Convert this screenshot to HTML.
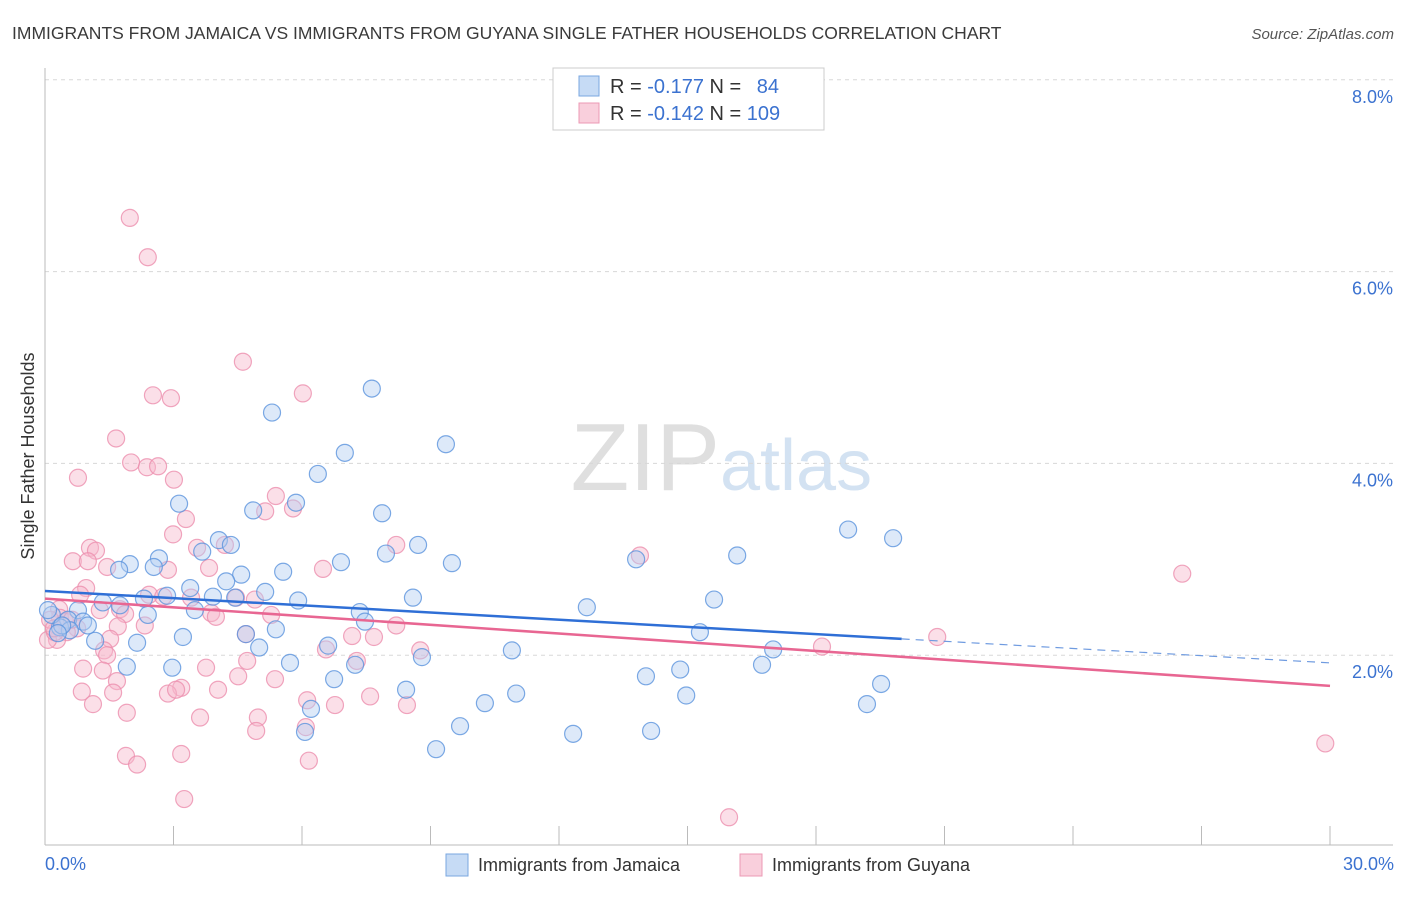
<!DOCTYPE html>
<html><head><meta charset="utf-8"><style>
body{margin:0;background:#fff;font-family:"Liberation Sans",sans-serif;}
svg text{font-family:"Liberation Sans",sans-serif;}
</style></head><body>
<svg id="chart" width="1406" height="892" xmlns="http://www.w3.org/2000/svg">
<text x="12" y="39" font-size="17.5" fill="#3a3a3a">IMMIGRANTS FROM JAMAICA VS IMMIGRANTS FROM GUYANA SINGLE FATHER HOUSEHOLDS CORRELATION CHART</text>
<text x="1394" y="39" font-size="15" fill="#555" font-style="italic" text-anchor="end">Source: ZipAtlas.com</text>
<text x="720" y="490" font-size="96" fill="#d8d8d8" text-anchor="end" font-family="Liberation Serif" opacity="0.8">ZIP</text>
<text x="720" y="490" font-size="72" fill="#c9dcf0" opacity="0.8">atlas</text>
<g id="grid"></g><g id="axes"></g><g id="pts"></g><g id="lines"></g>
<text transform="translate(34,456) rotate(-90)" font-size="18" fill="#333" text-anchor="middle">Single Father Households</text>
<g>
<rect x="553" y="68" width="271" height="62" fill="#fff" stroke="#ccc"/>
<rect x="579" y="76" width="20" height="20" fill="#c6dbf5" stroke="#7aa7e0"/>
<rect x="579" y="103" width="20" height="20" fill="#f9cfdc" stroke="#ec9ab4"/>
<text x="610" y="93" font-size="20" fill="#333">R = <tspan fill="#3b72d0">-0.177</tspan>   N =  <tspan fill="#3b72d0" dx="10">84</tspan></text>
<text x="610" y="120" font-size="20" fill="#333">R = <tspan fill="#3b72d0">-0.142</tspan>   N = <tspan fill="#3b72d0">109</tspan></text>
</g>
<g>
<rect x="446" y="854" width="22" height="22" fill="#c6dbf5" stroke="#7aa7e0"/>
<text x="478" y="871" font-size="18" fill="#333">Immigrants from Jamaica</text>
<rect x="740" y="854" width="22" height="22" fill="#f9cfdc" stroke="#ec9ab4"/>
<text x="772" y="871" font-size="18" fill="#333">Immigrants from Guyana</text>
</g>
</svg>
<script>
const yTicks=[2,4,6,8];
const xTickLabels=["0.0%","30.0%"];
const blueX=[5.30,7.63,7.00,9.36,6.37,3.13,5.86,4.86,7.87,18.75,19.80,4.06,4.34,3.67,8.71,7.96,6.91,2.66,1.98,1.73,2.54,5.56,4.58,4.23,16.16,9.50,13.80,3.39,2.85,3.92,2.31,5.14,5.91,4.44,8.59,12.65,15.62,1.35,1.75,0.77,2.40,3.50,7.35,7.47,0.54,0.89,5.39,4.69,15.29,3.22,1.17,2.15,6.61,17.00,5.00,10.90,8.80,5.72,7.24,1.91,2.97,16.74,14.83,14.03,6.75,8.43,19.52,11.00,14.97,10.27,6.21,19.19,9.69,6.07,12.33,14.15,9.13,0.35,0.16,0.07,0.58,1.00,0.40,0.30];
const blueY=[4.53,4.78,4.11,4.20,3.89,3.58,3.59,3.51,3.48,3.31,3.22,3.20,3.15,3.08,3.15,3.06,2.97,3.01,2.95,2.89,2.92,2.87,2.84,2.77,3.04,2.96,3.00,2.70,2.62,2.61,2.59,2.66,2.57,2.60,2.60,2.50,2.58,2.55,2.52,2.47,2.42,2.47,2.45,2.35,2.37,2.35,2.27,2.22,2.24,2.19,2.15,2.13,2.10,2.06,2.08,2.05,1.98,1.92,1.90,1.88,1.87,1.90,1.85,1.78,1.75,1.64,1.70,1.60,1.58,1.50,1.44,1.49,1.26,1.20,1.18,1.21,1.02,2.29,2.42,2.47,2.26,2.31,2.31,2.23];
const pinkX=[1.98,2.40,4.62,6.02,2.52,2.94,1.66,2.01,2.38,2.64,0.77,3.01,5.39,5.79,5.14,3.29,2.99,8.20,1.05,1.19,0.65,1.00,3.55,4.20,13.89,26.55,1.45,2.87,6.49,3.83,0.96,0.82,2.43,3.41,2.76,4.46,4.90,1.75,1.87,0.33,1.28,3.88,3.99,5.28,8.20,2.33,1.70,0.75,0.51,0.28,0.07,0.23,4.69,7.17,7.68,1.52,8.76,6.56,20.83,18.14,1.38,1.45,4.72,7.28,0.89,3.76,1.35,4.51,5.37,1.68,3.18,2.87,4.04,0.86,1.59,3.06,6.77,6.12,7.59,8.45,1.12,1.91,3.62,4.97,4.93,6.09,29.89,1.89,3.18,2.15,6.16,3.25,15.97,0.35,0.47,0.12,0.63,0.21];
const pinkY=[6.56,6.15,5.06,4.73,4.71,4.68,4.26,4.01,3.96,3.97,3.85,3.83,3.66,3.53,3.50,3.42,3.26,3.15,3.12,3.09,2.98,2.98,3.12,3.15,3.04,2.85,2.92,2.89,2.90,2.91,2.70,2.63,2.63,2.60,2.61,2.60,2.58,2.48,2.43,2.48,2.47,2.44,2.40,2.42,2.31,2.31,2.30,2.28,2.24,2.16,2.16,2.24,2.22,2.20,2.19,2.17,2.05,2.06,2.19,2.09,2.05,2.00,1.94,1.94,1.86,1.87,1.84,1.78,1.75,1.73,1.66,1.60,1.64,1.62,1.61,1.64,1.48,1.53,1.57,1.48,1.49,1.40,1.35,1.35,1.21,1.25,1.08,0.95,0.97,0.86,0.90,0.50,0.31,2.39,2.35,2.37,2.37,2.28];
const blueLine=[2.67,1.92];
const pinkLine=[2.59,1.68];
const NS="http://www.w3.org/2000/svg";
const X0=45,X1=1330,Y0=847,PPY=95.9;
function sx(v){return X0+(X1-X0)*v/30;}
function sy(v){return Y0-v*PPY;}
function mk(t,a,p){const e=document.createElementNS(NS,t);for(const k in a)e.setAttribute(k,a[k]);p.appendChild(e);return e;}
const grid=document.getElementById('grid'),axes=document.getElementById('axes'),pts=document.getElementById('pts'),lines=document.getElementById('lines');
yTicks.forEach(v=>{
 const l=mk('line',{x1:45,x2:1393,y1:sy(v),y2:sy(v),stroke:'#d8d8d8','stroke-dasharray':'4,4'},grid);
 
 
 const t=mk('text',{x:1393,y:sy(v)+23,'font-size':18,fill:'#3b72d0','text-anchor':'end'},axes);
 t.textContent=v.toFixed(1)+'%';
 
 
});
const ax=mk('line',{x1:45,x2:1393,y1:845,y2:845,stroke:'#bbb'},axes);


const ay=mk('line',{x1:45,x2:45,y1:68,y2:845,stroke:'#bbb'},axes);


for(let i=0;i<=10;i++){
 const tk=mk('line',{x1:sx(i*3),x2:sx(i*3),y1:826,y2:845,stroke:'#bbb'},axes);
 
 
}
[[0,'start',45],[30,'end',1394]].forEach((d,i)=>{
 const t=mk('text',{x:d[2],y:870,'font-size':18,fill:'#3b72d0','text-anchor':d[1]},axes);
 t.textContent=xTickLabels[i];
 
 
});
function drawPts(xs,ys,fill,stroke,name){
 xs.forEach((x,i)=>{
  const c=mk('circle',{cx:sx(x),cy:sy(ys[i]),r:8.5,fill:fill,'fill-opacity':0.45,stroke:stroke,'stroke-opacity':0.8,'stroke-width':1.2},pts);
  
  
 });
}
drawPts(pinkX,pinkY,'#f7b9cc','#ec8fae','guyana-point');
drawPts(blueX,blueY,'#b3cff2','#5b93dd','jamaica-point');
function yAt(l,x){return l[0]+(l[1]-l[0])*x/30;}
const b1=mk('line',{x1:sx(0),y1:sy(yAt(blueLine,0)),x2:sx(20),y2:sy(yAt(blueLine,20)),stroke:'#2f6fd6','stroke-width':2.5},lines);


const b2=mk('line',{x1:sx(20),y1:sy(yAt(blueLine,20)),x2:sx(30),y2:sy(yAt(blueLine,30)),stroke:'#6f9be0','stroke-width':1.2,'stroke-dasharray':'8,6'},lines);


const p1=mk('line',{x1:sx(0),y1:sy(yAt(pinkLine,0)),x2:sx(30),y2:sy(yAt(pinkLine,30)),stroke:'#e86692','stroke-width':2.5},lines);


</script>
</body></html>
